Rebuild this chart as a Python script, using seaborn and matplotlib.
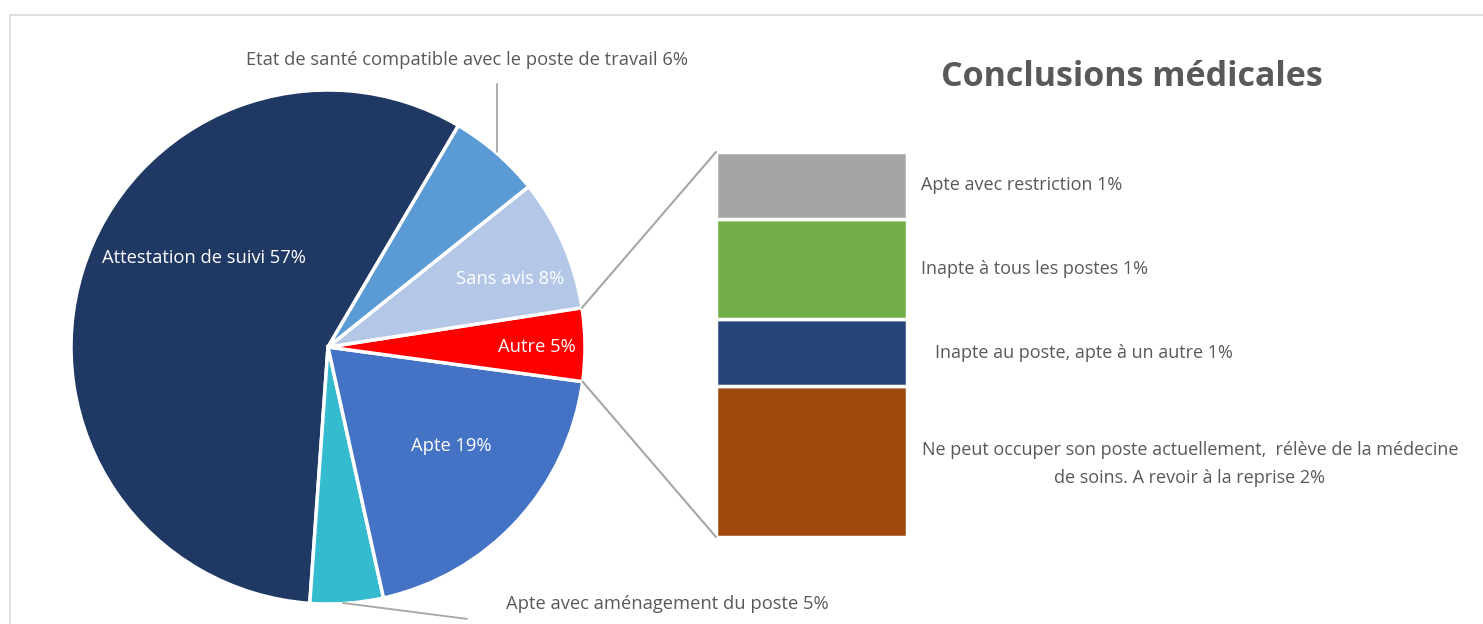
import numpy as np
import matplotlib
matplotlib.use('Agg')
import matplotlib.pyplot as plt
from matplotlib.patches import ConnectionPatch, Rectangle
import seaborn as sns

# pie data (Autre = sum of the bar breakdown)
pie_labels = ['Attestation de suivi', 'Apte avec aménagement du poste', 'Apte',
              'Autre', 'Sans avis', 'Etat de santé compatible avec le poste de travail']
pie_values = [57.4, 4.6, 19.4, 4.6, 8.3, 5.8]
pie_pct = ['57%', '5%', '19%', '5%', '8%', '6%']
pie_colors = ['#203864', '#35BBCE', '#4472C4', '#FF0000', '#B4C7E7', '#5B9BD5']

# breakdown of "Autre", bottom to top
bar_labels = ['Ne peut occuper son poste actuellement,  rélève de la médecine\nde soins. A revoir à la reprise',
              'Inapte au poste, apte à un autre', 'Inapte à tous les postes', 'Apte avec restriction']
bar_values = [1.8, 0.8, 1.2, 0.8]
bar_pct = ['2%', '1%', '1%', '1%']
bar_colors = ['#9E480E', '#264478', '#70AD47', '#A5A5A5']

sns.set_style('white')
plt.rcParams['font.family'] = ['Open Sans', 'DejaVu Sans']

W, H = 1483, 624
fig = plt.figure(figsize=(W / 100, H / 100), dpi=100)

# light frame like the Excel chart area
fig.add_artist(Rectangle((10 / W, -0.2), 1.2, (H - 15) / H + 0.2, transform=fig.transFigure,
                         fill=False, edgecolor='#D9D9D9', linewidth=1.2))

# Pie
ax_pie = fig.add_axes([71 / W, 20 / H, 514 / W, 514 / H])
wedges, _ = ax_pie.pie(pie_values, colors=pie_colors, startangle=59.5, counterclock=True,
                       radius=1, wedgeprops=dict(edgecolor='white', linewidth=2.5))
ax_pie.set_xlim(-1, 1)
ax_pie.set_ylim(-1, 1)
ax_pie.set_aspect('equal')
ax_pie.axis('off')

txt = '#595959'
fs = 13.2
inside_pos = {0: (-0.482, 0.346), 2: (0.479, -0.385), 3: (0.813, 0.0), 4: (0.708, 0.265)}
for i, (x, y) in inside_pos.items():
    ax_pie.text(x, y, f'{pie_labels[i]} {pie_pct[i]}', color='white', fontsize=fs,
                ha='center', va='center')

# outside labels with leader lines
ax_pie.text(0.541, 1.117, f'{pie_labels[5]} {pie_pct[5]}', color=txt, fontsize=fs,
            ha='center', va='center', clip_on=False)
ax_pie.plot([0.658, 0.658], [1.023, 0.759], color='#A6A6A6', lw=1.3, clip_on=False)
ax_pie.text(1.319, -1.0, f'{pie_labels[1]} {pie_pct[1]}', color=txt, fontsize=fs,
            ha='center', va='center', clip_on=False)
ax_pie.plot([0.058, 0.541], [-0.996, -1.058], color='#A6A6A6', lw=1.3, clip_on=False)

# Bar of "Autre"
ax_bar = fig.add_axes([716 / W, 87 / H, 191 / W, 385 / H])
bottom = 0
mids = []
for v, c in zip(bar_values, bar_colors):
    ax_bar.bar(0, v, bottom=bottom, width=1, color=c, edgecolor='white', linewidth=2.5)
    mids.append(bottom + v / 2)
    bottom += v
total = bottom
ax_bar.set_xlim(-0.5, 0.5)
ax_bar.set_ylim(0, total)
ax_bar.axis('off')

trans = matplotlib.transforms.blended_transform_factory(ax_bar.transAxes, ax_bar.transData)
label_x = [(1190 - 716) / 191, (935 - 716) / 191, (921 - 716) / 191, (921 - 716) / 191]
label_ha = ['center', 'left', 'left', 'left']
label_dy = [-0.03, 0, 0, 0]
for lab, p, m, x, ha, dy in zip(bar_labels, bar_pct, mids, label_x, label_ha, label_dy):
    ax_bar.text(x, m + dy, f'{lab} {p}', transform=trans, color=txt, fontsize=fs - 0.2, ha=ha,
                va='center', multialignment='center', linespacing=1.7, clip_on=False)

# connectors from the Autre wedge to the bar
w = wedges[3]
for ang, yb in [(w.theta2, total), (w.theta1, 0)]:
    a = np.deg2rad(ang)
    con = ConnectionPatch(xyA=(np.cos(a), np.sin(a)), coordsA=ax_pie.transData,
                          xyB=(-0.5, yb), coordsB=ax_bar.transData,
                          color='#A6A6A6', linewidth=1.5)
    fig.add_artist(con)

fig.text(1132 / W, 1 - 77 / H, 'Conclusions médicales', fontsize=24.5, fontweight='bold',
         color=txt, ha='center', va='center')

fig.savefig('out.png', dpi=100)
